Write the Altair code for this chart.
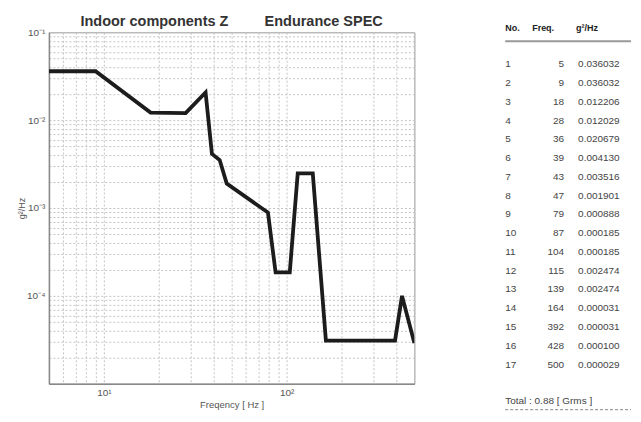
import altair as alt
import pandas as pd

# ---------------- data ----------------
no = list(range(1, 18))
freq = [5, 9, 18, 28, 36, 39, 43, 47, 79, 87, 104, 115, 139, 164, 392, 428, 500]
psd_txt = ["0.036032", "0.036032", "0.012206", "0.012029", "0.020679", "0.004130",
           "0.003516", "0.001901", "0.000888", "0.000185", "0.000185", "0.002474",
           "0.002474", "0.000031", "0.000031", "0.000100", "0.000029"]
psd = [float(s) for s in psd_txt]

title_left = "Indoor components Z"
title_right = "Endurance SPEC"
x_title = "Freqency [ Hz ]"
y_title = "g²/Hz"
header = ["No.", "Freq.", "g²/Hz"]
total_text = "Total : 0.88 [ Grms ]"

x_label_vals = [10, 100]
x_label_txt = ["10¹", "10²"]
y_label_vals = [0.1, 0.01, 0.001, 0.0001]
y_label_txt = ["10⁻¹", "10⁻²", "10⁻³", "10⁻⁴"]

# grid tick values (1..9 per decade)
x_grid = [m * d for d in [1, 10, 100] for m in range(1, 10) if 5 <= m * d <= 500]
y_grid = [m * d for d in [1e-5, 1e-4, 1e-3, 1e-2] for m in range(1, 10)] + [0.1]


def label_expr(vals, txts):
    expr = "''"
    for v, t in reversed(list(zip(vals, txts))):
        expr = f"(datum.value > {v*0.99} && datum.value < {v*1.01}) ? '{t}' : " + expr
    return expr


FONT = "Liberation Sans"
df = pd.DataFrame({"freq": freq, "psd": psd})

line = alt.Chart(df).mark_line(
    color="#1c1c1c", strokeWidth=3.8, strokeJoin="miter", clip=True
).encode(
    x=alt.X("freq:Q", scale=alt.Scale(type="log", domain=[5, 500], nice=False),
            axis=alt.Axis(values=x_grid, labelExpr=label_expr(x_label_vals, x_label_txt),
                          title=x_title, grid=True, ticks=False, labelFontSize=10,
                          labelPadding=4, titleFontSize=9.5, titlePadding=2,
                          titleFontWeight="normal", labelColor="#555", titleColor="#555",
                          labelFont=FONT, titleFont=FONT, domainColor="#888",
                          domainWidth=1.5, gridColor="#c4c4c4", gridDash=[2, 2],
                          labelFlush=False)),
    y=alt.Y("psd:Q", scale=alt.Scale(type="log", domain=[1e-5, 0.1], nice=False),
            axis=alt.Axis(values=y_grid, labelExpr=label_expr(y_label_vals, y_label_txt),
                          title=y_title, grid=True, ticks=False, labelFontSize=10,
                          labelPadding=4, titleFontSize=9, titlePadding=0,
                          titleFontWeight="normal", labelColor="#555", titleColor="#555",
                          labelFont=FONT, titleFont=FONT, domainColor="#888",
                          domainWidth=1.5, gridColor="#c4c4c4", gridDash=[2, 2],
                          minExtent=22, maxExtent=22, labelFlush=False)),
).properties(
    width=366, height=352,
    title=alt.TitleParams(text=title_left + "\u00a0" * 9 + title_right,
                          fontSize=14.5, fontWeight="bold", font=FONT, color="#333",
                          anchor="middle", offset=-2),
    view=alt.ViewBackground(stroke="#999", strokeWidth=1),
)

# ---------------- table ----------------
W_T = 128
H_T = 352
row_step = 18.8
r_top = 1 - 32 / row_step
r_bot = r_top + H_T / row_step
yscale = alt.Scale(domain=[r_top, r_bot], reverse=True, nice=False, zero=False)


def rpos(y):
    return r_top + y / row_step


tab = pd.DataFrame({"r": no, "freq": freq, "psd": psd_txt, "no": [str(n) for n in no]})
lay = pd.DataFrame({"r": [rpos(-4)]})
hl = pd.DataFrame({"r": [rpos(9)]})
tot = pd.DataFrame({"r": [rpos(369)], "t": [total_text]})
dash = pd.DataFrame({"r": [rpos(378)]})

txt_style = dict(font=FONT, fontSize=10, color="#444", baseline="middle")

c_no = alt.Chart(tab).mark_text(align="left", **txt_style).encode(
    x=alt.value(2), y=alt.Y("r:Q", scale=yscale, axis=None), text="no:N")
c_fr = alt.Chart(tab).mark_text(align="right", **txt_style).encode(
    x=alt.value(61), y=alt.Y("r:Q", scale=yscale, axis=None), text="freq:Q")
c_ps = alt.Chart(tab).mark_text(align="left", **txt_style).encode(
    x=alt.value(75), y=alt.Y("r:Q", scale=yscale, axis=None), text="psd:N")

hdr_style = dict(font=FONT, fontSize=9, color="#222", baseline="middle", fontWeight="bold")
h1 = alt.Chart(lay).mark_text(align="left", text=header[0], **hdr_style).encode(
    x=alt.value(2), y=alt.Y("r:Q", scale=yscale, axis=None))
h2 = alt.Chart(lay).mark_text(align="left", text=header[1], **hdr_style).encode(
    x=alt.value(29), y=alt.Y("r:Q", scale=yscale, axis=None))
h3 = alt.Chart(lay).mark_text(align="left", text=header[2], **hdr_style).encode(
    x=alt.value(73), y=alt.Y("r:Q", scale=yscale, axis=None))
hline = alt.Chart(hl).mark_rule(color="#999", strokeWidth=2).encode(
    x=alt.value(2), x2=alt.value(W_T), y=alt.Y("r:Q", scale=yscale, axis=None))
total = alt.Chart(tot).mark_text(align="left", **txt_style).encode(
    x=alt.value(2), y=alt.Y("r:Q", scale=yscale, axis=None), text="t:N")
dline = alt.Chart(dash).mark_rule(color="#888", strokeWidth=1, strokeDash=[3, 2]).encode(
    x=alt.value(2), x2=alt.value(W_T), y=alt.Y("r:Q", scale=yscale, axis=None))

table = alt.layer(c_no, c_fr, c_ps, h1, h2, h3, hline, total, dline).properties(
    width=W_T, height=H_T, view=alt.ViewBackground(stroke="transparent"))

chart = alt.hconcat(line, table, spacing=87).properties(
    padding={"left": 9, "top": 5, "right": 0, "bottom": 0}
).configure(background="white")

chart.save("out.html", embed_options={"renderer": "svg", "actions": False})
